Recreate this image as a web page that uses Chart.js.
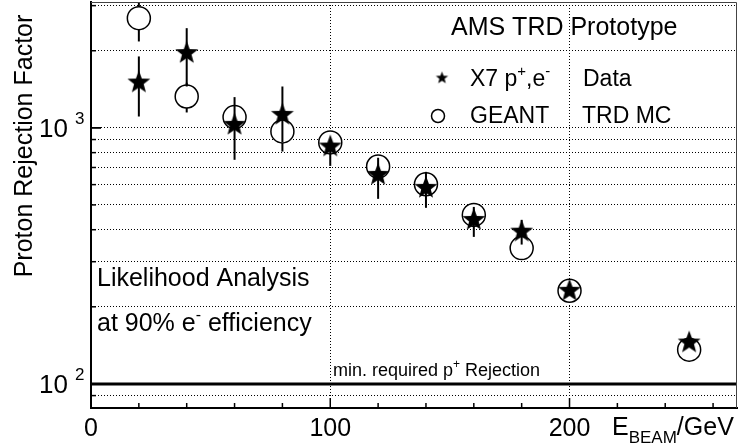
<!DOCTYPE html>
<html>
<head>
<meta charset="utf-8">
<script src="https://cdn.jsdelivr.net/npm/chart.js@4"></script>
<style>
  body { margin: 0; background: #fff; }
</style>
</head>
<body>
<canvas id="chart" width="738" height="446"></canvas>
<script>
// beam energies (GeV)
const energies = [20, 40, 60, 80, 100, 120, 140, 160, 180, 200, 250];
// X7 p+, e- data: rejection and error bar ends
const dataRej = [1503, 1958, 1027, 1124, 845, 655, 583, 437, 393, 231, 145];
const dataLo  = [1107, 1450,  750,  880, 710, 528, 487, 375, 350, 222, 145];
const dataHi  = [1900, 2450, 1318, 1450, 900, 764, 673, 491, 437, 240, 145];
// GEANT TRD MC
const mcRej = [2681, 1325, 1101, 968, 877, 706, 602, 457, 339, 231, 136];
const mcLo  = [2174, 1148, 1101, 808, 877, 706, 602, 457, 339, 231, 136];
const mcHi  = [3500, 1500, 1101, 1050, 877, 706, 602, 457, 339, 231, 136];
// required rejection
const reqLevel = 100;
const reqRange = [0, 270];

const xTickValues = [0, 20, 40, 60, 80, 100, 120, 140, 160, 180, 200, 220, 240, 260];
const xLabelValues = [0, 100, 200];
const xGridValues = [100, 200];
const yGridValues = [90, 200, 300, 400, 500, 600, 700, 800, 900, 1000, 2000, 3000];
const yLabelValues = [100, 1000];

const FONT = '"Liberation Sans", Arial, sans-serif';

function makeStar(R) {
    const c = document.createElement('canvas');
    const s = Math.ceil(R * 2) + 2;
    c.width = s; c.height = s;
    const g = c.getContext('2d');
    g.translate(s / 2, s / 2);
    g.beginPath();
    for (let i = 0; i < 10; i++) {
        const r = i % 2 === 0 ? R : R * 0.42;
        const a = -Math.PI / 2 + i * Math.PI / 5;
        g.lineTo(r * Math.cos(a), r * Math.sin(a));
    }
    g.closePath();
    g.fillStyle = '#000';
    g.fill();
    return c;
}
const bigStar = makeStar(12);
const smallStar = makeStar(6.5);

function rich(ctx, x, y, parts) {
    let cx = x;
    for (const p of parts) {
        ctx.font = p.size + 'px ' + FONT;
        ctx.fillText(p.t, cx, y + (p.dy || 0));
        cx += ctx.measureText(p.t).width;
    }
}

const errorBars = {
    id: 'errorBars',
    beforeDatasetDraw(chart, args) {
        const ds = chart.data.datasets[args.index];
        if (!ds.errLo) return;
        const {ctx, chartArea, scales: {x, y}} = chart;
        ctx.save();
        ctx.beginPath();
        ctx.rect(chartArea.left, chartArea.top, chartArea.right - chartArea.left, chartArea.bottom - chartArea.top);
        ctx.clip();
        ctx.strokeStyle = '#000';
        ctx.lineWidth = 2;
        energies.forEach((e, i) => {
            const px = x.getPixelForValue(e);
            ctx.beginPath();
            ctx.moveTo(px, y.getPixelForValue(ds.errLo[i]));
            ctx.lineTo(px, y.getPixelForValue(ds.errHi[i]));
            ctx.stroke();
        });
        ctx.restore();
    }
};

const decorations = {
    id: 'decorations',
    afterDraw(chart) {
        const {ctx, chartArea: a, scales: {x, y}} = chart;
        ctx.save();
        // frame top/right
        ctx.strokeStyle = '#444';
        ctx.lineWidth = 1;
        ctx.beginPath();
        ctx.moveTo(a.left, a.top + 0.5);
        ctx.lineTo(a.right - 0.5, a.top + 0.5);
        ctx.lineTo(a.right - 0.5, a.bottom);
        ctx.stroke();
        // inner ticks
        ctx.strokeStyle = '#000';
        ctx.lineWidth = 1.5;
        xTickValues.forEach(v => {
            const px = x.getPixelForValue(v);
            const len = v % 100 === 0 ? 10 : 5;
            ctx.beginPath();
            ctx.moveTo(px, a.bottom);
            ctx.lineTo(px, a.bottom - len);
            ctx.stroke();
        });
        yGridValues.concat(yLabelValues).forEach(v => {
            const py = y.getPixelForValue(v);
            const len = yLabelValues.includes(v) ? 10 : 5;
            ctx.beginPath();
            ctx.moveTo(a.left, py);
            ctx.lineTo(a.left + len, py);
            ctx.stroke();
        });

        ctx.fillStyle = '#000';
        ctx.textBaseline = 'alphabetic';
        // x tick labels
        ctx.font = '25px ' + FONT;
        ctx.textAlign = 'center';
        xLabelValues.forEach(v => ctx.fillText(String(v), x.getPixelForValue(v), 436));
        // y tick labels 10^n
        yLabelValues.forEach(v => {
            const py = y.getPixelForValue(v);
            ctx.font = '26px ' + FONT;
            ctx.textAlign = 'right';
            ctx.fillText('10', 68, py + 9);
            ctx.font = '17px ' + FONT;
            ctx.textAlign = 'left';
            ctx.fillText(String(Math.round(Math.log10(v))), 75, py - 4);
        });
        // axis titles
        ctx.textAlign = 'left';
        rich(ctx, 612, 435, [
            {t: 'E', size: 25},
            {t: 'BEAM', size: 17, dy: 8},
            {t: '/GeV', size: 25}
        ]);
        ctx.save();
        ctx.translate(32, 146);
        ctx.rotate(-Math.PI / 2);
        ctx.textAlign = 'center';
        ctx.font = '25px ' + FONT;
        ctx.fillText('Proton Rejection Factor', 0, 0);
        ctx.restore();

        // annotations
        ctx.textAlign = 'left';
        ctx.font = '25px ' + FONT;
        ctx.fillText('AMS TRD Prototype', 451, 35);
        ctx.drawImage(smallStar, 442 - smallStar.width / 2, 78 - smallStar.height / 2);
        rich(ctx, 470, 86, [
            {t: 'X7 p', size: 23},
            {t: '+', size: 15, dy: -10},
            {t: ',e', size: 23},
            {t: '-', size: 15, dy: -10}
        ]);
        ctx.font = '23px ' + FONT;
        ctx.fillText('Data', 583, 86);
        ctx.beginPath();
        ctx.arc(438, 116, 6.5, 0, Math.PI * 2);
        ctx.lineWidth = 1.5;
        ctx.stroke();
        ctx.fillText('GEANT', 470, 123);
        ctx.fillText('TRD MC', 582, 123);

        ctx.font = '25px ' + FONT;
        ctx.fillText('Likelihood Analysis', 97, 286);
        rich(ctx, 97, 331, [
            {t: 'at 90% e', size: 25},
            {t: '-', size: 16, dy: -11},
            {t: ' efficiency', size: 25}
        ]);
        rich(ctx, 333, 376, [
            {t: 'min. required p', size: 18},
            {t: '+', size: 12, dy: -8},
            {t: ' Rejection', size: 18}
        ]);
        ctx.restore();
    }
};

new Chart(document.getElementById('chart').getContext('2d'), {
    type: 'scatter',
    data: {
        datasets: [
            {
                label: 'X7 p+,e- Data',
                data: energies.map((e, i) => ({x: e, y: dataRej[i]})),
                errLo: dataLo,
                errHi: dataHi,
                pointStyle: bigStar,
                pointRadius: 12
            },
            {
                label: 'GEANT TRD MC',
                data: energies.map((e, i) => ({x: e, y: mcRej[i]})),
                errLo: mcLo,
                errHi: mcHi,
                pointStyle: 'circle',
                pointRadius: 11.5,
                borderColor: '#000',
                borderWidth: 1.5,
                backgroundColor: '#fff'
            },
            {
                type: 'line',
                label: 'min. required',
                data: reqRange.map(e => ({x: e, y: reqLevel})),
                borderColor: '#000',
                borderWidth: 3,
                pointRadius: 0
            }
        ]
    },
    options: {
        responsive: false,
        animation: false,
        layout: {autoPadding: false, padding: {left: 91, right: 1, top: 2, bottom: 38}},
        plugins: {legend: {display: false}, tooltip: {enabled: false}},
        scales: {
            x: {
                type: 'linear',
                min: 0,
                max: 270,
                afterBuildTicks: s => { s.ticks = xTickValues.map(v => ({value: v})); },
                ticks: {display: false},
                grid: {
                    drawTicks: false,
                    lineWidth: 1,
                    color: c => (c.tick && xGridValues.includes(c.tick.value)) ? '#000' : 'rgba(0,0,0,0)'
                },
                border: {display: true, color: '#000', width: 2, dash: [1, 2]}
            },
            y: {
                type: 'logarithmic',
                min: 80.5,
                max: 3100,
                afterBuildTicks: s => { s.ticks = yGridValues.map(v => ({value: v})); },
                ticks: {display: false},
                grid: {drawTicks: false, lineWidth: 1, color: '#000'},
                border: {display: true, color: '#000', width: 2, dash: [1, 2]}
            }
        }
    },
    plugins: [errorBars, decorations]
});
</script>
</body>
</html>
